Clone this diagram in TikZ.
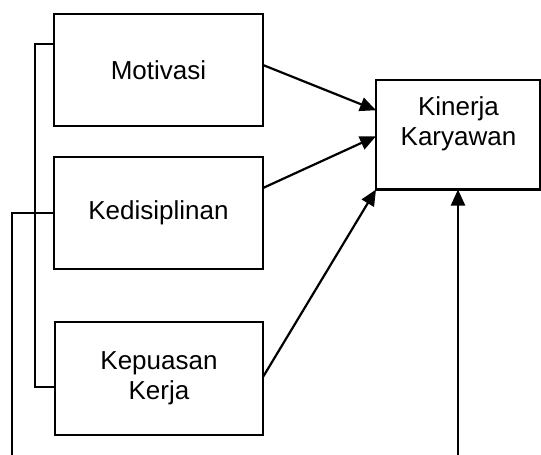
\documentclass[tikz,border=0pt]{standalone}
\usepackage{fontspec}
\setmainfont{Liberation Sans}
\usetikzlibrary{arrows.meta,calc}
\begin{document}
\begin{tikzpicture}[x=1pt,y=-1pt,
  box/.style={draw=black,line width=2.2pt,rectangle,inner sep=0pt,outer sep=0pt,align=center,
    font=\fontsize{26}{30}\selectfont},
  txt/.style={inner sep=0pt,outer sep=0pt,align=center,font=\fontsize{26}{29.5}\selectfont},
  conn/.style={line width=2.2pt},
  arr/.style={line width=2.2pt,-{Triangle[length=16pt,width=14pt]}}]
\useasboundingbox (0,0) rectangle (541,455);
\node[box,minimum width=209pt,minimum height=112pt] (mot) at (158.5,70) {Motivasi};
\node[box,minimum width=209pt,minimum height=112pt] (kedi) at (158.5,213) {Kedisiplinan};
\node[box,minimum width=208pt,minimum height=113pt] (kep) at (159,378.5) {Kepuasan\\Kerja};
\node[box,minimum width=164pt,minimum height=109.5pt] (kin) at (458,134.75) {};
\node[txt] (kintxt) at (458.5,124) {Kinerja\\Karyawan};
\coordinate (brtop) at (35,44);
\coordinate (leftbot) at (12,456);
\coordinate (vbot) at (458,456);
\draw[arr] ([yshift=5pt]mot.east) -- ([yshift=24.5pt]kin.west);
\draw[arr] ([yshift=25pt]kedi.east) -- ([yshift=-1.5pt]kin.west);
\draw[arr] ([yshift=1.5pt]kep.east) -- (kin.south west);
\draw[arr] (vbot) -- (kin.south);
\draw[conn] ([yshift=26pt]mot.west) -- (brtop) |- ([yshift=-8.5pt]kep.west);
\draw[conn] (kedi.west) -| (leftbot);
\end{tikzpicture}
\end{document}
